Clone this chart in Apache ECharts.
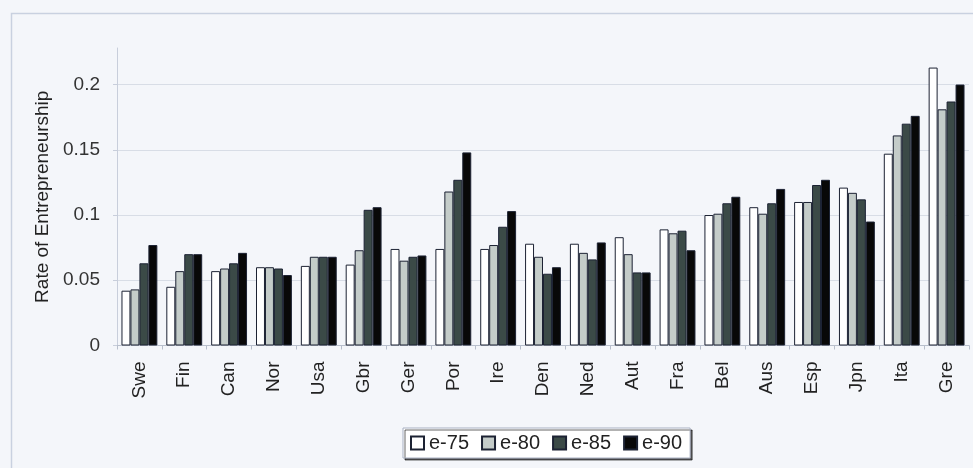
<!DOCTYPE html>
<html>
<head>
<meta charset="utf-8">
<script src="https://cdn.jsdelivr.net/npm/echarts@6/dist/echarts.min.js"></script>
<style>
html,body{margin:0;padding:0;background:#f4f6fa;}
#c{width:973px;height:468px;}
</style>
</head>
<body>
<div id="c"></div>
<script>
var categories = ['Swe','Fin','Can','Nor','Usa','Gbr','Ger','Por','Ire','Den','Ned','Aut','Fra','Bel','Aus','Esp','Jpn','Ita','Gre'];
var e75 = [0.042,0.045,0.057,0.060,0.061,0.062,0.074,0.074,0.074,0.078,0.078,0.083,0.089,0.100,0.106,0.110,0.121,0.147,0.213];
var e80 = [0.043,0.057,0.059,0.060,0.068,0.073,0.065,0.118,0.077,0.068,0.071,0.070,0.086,0.101,0.101,0.110,0.117,0.161,0.181];
var e85 = [0.063,0.070,0.063,0.059,0.068,0.104,0.068,0.127,0.091,0.055,0.066,0.056,0.088,0.109,0.109,0.123,0.112,0.170,0.187];
var e90 = [0.077,0.070,0.071,0.054,0.068,0.106,0.069,0.148,0.103,0.060,0.079,0.056,0.073,0.114,0.120,0.127,0.095,0.176,0.200];
var seriesNames = ['e-75','e-80','e-85','e-90'];
var seriesColors = ['#ffffff','#c4ccc9','#3b4a47','#080808'];
var seriesData = [e75,e80,e85,e90];

var FONT = 'Liberation Sans, Arial, sans-serif';
var chart = echarts.init(document.getElementById('c'));
chart.setOption({
  backgroundColor:'#f4f6fa',
  animation:false,
  graphic:[{
    type:'rect',left:9,top:11,
    shape:{width:1000,height:500},
    style:{fill:'none',stroke:'#c9d1e0',lineWidth:1.5},
    silent:true,z:-1
  }],
  grid:{left:117,right:4,top:48,bottom:122.5},
  legend:{
    top:428, left:403,
    itemWidth:13,itemHeight:13,itemGap:12,
    borderColor:'#a8b0c2',borderWidth:1,padding:[5,8,5,7],
    backgroundColor:'#ffffff',
    shadowColor:'rgba(0,0,0,0.6)',shadowOffsetX:2,shadowOffsetY:2,shadowBlur:0,
    textStyle:{fontFamily:FONT,fontSize:20,color:'#222'},
    data:seriesNames.map(function(n){return {name:n,icon:'rect'};})
  },
  xAxis:{
    type:'category',data:categories,
    axisLine:{lineStyle:{color:'#b8bfcc'}},
    axisTick:{show:true,lineStyle:{color:'#b8bfcc'},length:4},
    axisLabel:{rotate:90,fontFamily:FONT,fontSize:19,color:'#222',margin:16}
  },
  yAxis:{
    type:'value',min:0,max:0.228,interval:0.05,
    name:'Rate of Entrepreneurship',nameLocation:'middle',nameGap:65,
    nameTextStyle:{fontFamily:FONT,fontSize:19,color:'#222'},
    axisLine:{show:true,lineStyle:{color:'#c8cedb'}},
    axisTick:{show:true,length:4,lineStyle:{color:'#c8cedb'}},
    axisLabel:{showMaxLabel:false,fontFamily:FONT,fontSize:19,color:'#333',margin:17,
      formatter:function(v){return String(+v.toFixed(2));}},
    splitLine:{lineStyle:{color:['#d8dde6','#d8dde6','#d8dde6','#d8dde6','#d8dde6','rgba(0,0,0,0)']}}
  },
  series:seriesData.map(function(d,i){
    return {
      name:seriesNames[i],type:'bar',data:d,
      barGap:'0%',barCategoryGap:'20%',
      itemStyle:{color:seriesColors[i],borderColor:'#1c2233',borderWidth:1}
    };
  })
});
</script>
</body>
</html>
